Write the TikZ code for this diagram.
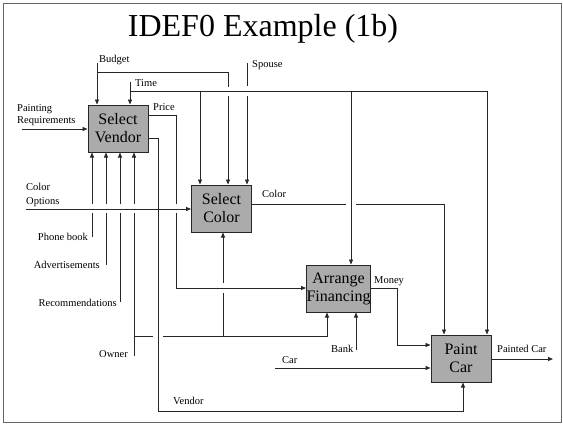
\documentclass[tikz,border=0pt]{standalone}
\usepackage{fontspec}
\setmainfont{Liberation Serif}
\usetikzlibrary{arrows.meta,calc}
\begin{document}
\begin{tikzpicture}[x=1pt,y=-1pt,
  ln/.style={line width=0.8pt, draw=black!85},
  arr/.style={ln,-{Triangle[length=5pt,width=4pt]}},
  proc/.style={draw=black!85, line width=1pt, fill=black!33, minimum width=60pt, minimum height=47pt, inner sep=0pt, align=center, font=\fontsize{16}{18}\selectfont},
  lbl/.style={font=\fontsize{10.5}{12}\selectfont, inner sep=0pt},
]
\useasboundingbox (0,0) rectangle (563,424);
\draw[black!60, line width=1pt] (3,3) rectangle (561,422);
\node[anchor=base, font=\fontsize{32}{34}\selectfont, inner sep=0pt] (title) at (263,36) {IDEF0 Example (1b)};

% activity boxes
\node[proc] (sv) at (118,128.5) {Select\\Vendor};
\node[proc] (sc) at (221.5,208.5) {Select\\Color};
\node[proc] (af) at (338.5,288.5) {Arrange\\Financing};
\node[proc] (pc) at (461,358.5) {Paint\\Car};

% labels
\node[lbl, anchor=base west] (lbudget) at (99,62) {Budget};
\node[lbl, anchor=base west] (ltime) at (135,86) {Time};
\node[lbl, anchor=base west] (lspouse) at (252,67) {Spouse};
\node[lbl, anchor=west, align=left] (lpr) at (17,115) {Painting\\Requirements};
\node[lbl, anchor=base west] (lprice) at (153,110) {Price};
\node[lbl, anchor=west, align=left, font=\fontsize{10.5}{13.5}\selectfont] (lco) at (26,195) {Color\\Options};
\node[lbl, anchor=base west] (lcolor) at (262,197) {Color};
\node[lbl, anchor=base east] (lphone) at (88,240) {Phone book};
\node[lbl, anchor=base east] (ladv) at (100,268) {Advertisements};
\node[lbl, anchor=base east] (lrec) at (117,306) {Recommendations};
\node[lbl, anchor=base east] (lowner) at (128,357) {Owner};
\node[lbl, anchor=base west] (lvendor) at (173,404) {Vendor};
\node[lbl, anchor=base west] (lcar) at (282,363) {Car};
\node[lbl, anchor=base west] (lbank) at (331,352) {Bank};
\node[lbl, anchor=base west] (lmoney) at (374,283) {Money};
\node[lbl, anchor=base west] (lpainted) at (497,352) {Painted Car};

% free ends
\coordinate (budgetS) at (97,63);
\coordinate (timeS) at (130,82);
\coordinate (spouseS) at (247,63);
\coordinate (prS) at (22,129);
\coordinate (coS) at (26,209);
\coordinate (phoneS) at (92,237);
\coordinate (advS) at (106,265);
\coordinate (recS) at (120,302);
\coordinate (ownerS) at (134,356);
\coordinate (carS) at (275,368);
\coordinate (bankS) at (356,350);
\coordinate (outE) at (553,359);

% Budget
\draw[arr] (budgetS) -- (budgetS |- sv.north);
\draw[ln] (97,72) -- (228,72) -- (228,87);
\draw[arr] (228,96) -- (228,0 |- sc.north);
% Time
\draw[arr] (timeS) -- (timeS |- sv.north);
\draw[arr] (130,91) -- (487,91) -- (487,0 |- pc.north);
\draw[arr] (200,91) -- (200,0 |- sc.north);
\draw[arr] (351,91) -- (351,0 |- af.north);
% Spouse
\draw[ln] (spouseS) -- (247,86);
\draw[arr] (247,96) -- (247,0 |- sc.north);
% Painting requirements
\draw[arr] (prS) -- (prS -| sv.west);
% Price
\draw[ln] (sv.east |- 0,115) -- (176,115) -- (176,204);
\draw[arr] (176,213) -- (176,288) -- (af.west |- 0,288);
% Vendor
\draw[arr] (sv.east |- 0,138) -- (158,138) -- (158,411) -- (463,411) -- (463,0 |- pc.south);
% Color options
\draw[arr] (coS) -- (coS -| sc.west);
% mechanisms of Select Vendor
\draw[ln] (phoneS) -- (92,213);
\draw[arr] (92,204) -- (92,0 |- sv.south);
\draw[ln] (advS) -- (106,213);
\draw[arr] (106,204) -- (106,0 |- sv.south);
\draw[ln] (recS) -- (120,213);
\draw[arr] (120,204) -- (120,0 |- sv.south);
\draw[ln] (ownerS) -- (134,213);
\draw[arr] (134,204) -- (134,0 |- sv.south);
% Owner branches
\draw[ln] (134,336) -- (153,336);
\draw[arr] (163,336) -- (327,336) -- (327,0 |- af.south);
\draw[ln] (223,336) -- (223,293);
\draw[arr] (223,283) -- (223,0 |- sc.south);
% Color output
\draw[ln] (sc.east |- 0,204) -- (346,204);
\draw[arr] (356,204) -- (444,204) -- (444,0 |- pc.north);
% Money
\draw[arr] (af.east |- 0,288) -- (397,288) -- (397,345) -- (pc.west |- 0,345);
% Bank
\draw[arr] (bankS) -- (bankS |- af.south);
% Car
\draw[arr] (carS) -- (carS -| pc.west);
% Painted car
\draw[arr] (pc.east |- 0,359) -- (outE);
\end{tikzpicture}
\end{document}
